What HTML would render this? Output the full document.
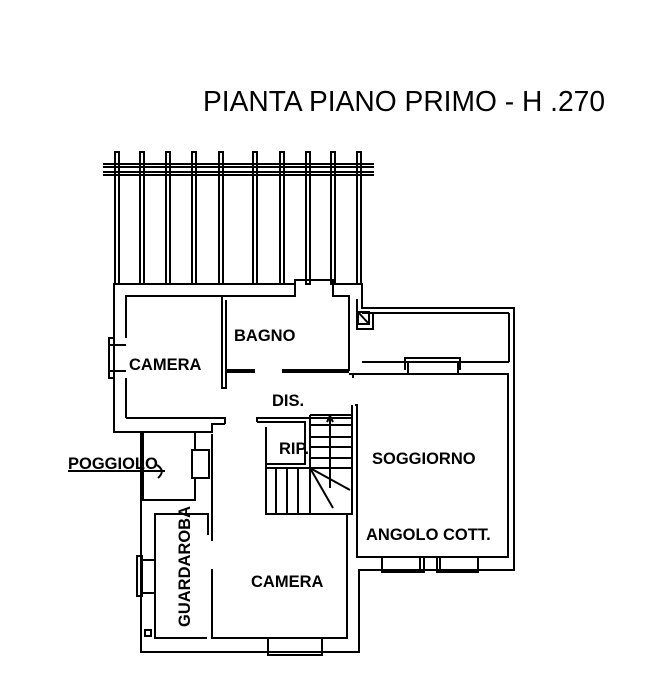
<!DOCTYPE html>
<html><head><meta charset="utf-8"><style>
html,body{margin:0;padding:0;background:#fff;}
svg{display:block;}
text{font-family:"Liberation Sans",sans-serif;fill:#000;}
.l{font-weight:bold;font-size:16.5px;}
</style></head><body>
<svg width="658" height="696" viewBox="0 0 658 696" xmlns="http://www.w3.org/2000/svg">
<text x="203" y="111" font-size="29" textLength="402" lengthAdjust="spacingAndGlyphs">PIANTA PIANO PRIMO - H .270</text>
<g fill="none" stroke="#000" stroke-width="2">
<line x1="103" y1="164" x2="374" y2="164"/><line x1="103" y1="167" x2="374" y2="167"/>
<line x1="103" y1="172" x2="374" y2="172"/><line x1="103" y1="175" x2="374" y2="175"/>
<g>
<rect x="115" y="152" width="4" height="132"/><rect x="140" y="152" width="4" height="132"/>
<rect x="166" y="152" width="4" height="132"/><rect x="192" y="152" width="4" height="132"/>
<rect x="219" y="152" width="4" height="132"/><rect x="253" y="152" width="4" height="132"/>
<rect x="280" y="152" width="4" height="132"/><rect x="306" y="152" width="4" height="132"/>
<rect x="331" y="152" width="4" height="132"/><rect x="357" y="152" width="4" height="132"/>
</g>
<polyline points="295,284 114,284 114,432 212,432 212,424 225,424"/>
<polyline points="333,284 362,284 362,308 514,308 514,570 359,570 359,652 141,652 141,432"/>
<polyline points="126,338 126,296 295,296 295,280 333,280 333,296 349,296 349,370 282,370"/>
<line x1="126" y1="378" x2="126" y2="418"/>
<polyline points="126,418 225,418 225,424"/>
<rect x="109" y="338" width="5" height="40"/>
<line x1="109" y1="345" x2="126" y2="345"/><line x1="109" y1="371" x2="126" y2="371"/>
<polyline points="222,296 222,388 226,388 226,300"/>
<line x1="226" y1="370" x2="255" y2="370"/><line x1="226" y1="372" x2="255" y2="372"/>
<line x1="282" y1="372" x2="349" y2="372"/>
<line x1="362" y1="313" x2="509" y2="313"/><line x1="509" y1="313" x2="509" y2="362"/>
<line x1="362" y1="362" x2="509" y2="362"/>
<rect x="358" y="312" width="11" height="12"/><line x1="358" y1="312" x2="369" y2="324"/>
<polyline points="357,299 357,329 373,329 373,313"/>
<polyline points="405,370 405,358 460,358 460,370"/>
<line x1="408" y1="362" x2="408" y2="374"/><line x1="458" y1="362" x2="458" y2="374"/>
<polyline points="349,374 508,374 508,557 357,557 357,405 355,405"/>
<line x1="353" y1="374" x2="353" y2="378"/>
<polyline points="382,557 382,572 424,572 424,557"/><polyline points="437,557 437,572 478,572 478,557"/>
<line x1="420" y1="557" x2="420" y2="570"/><line x1="440" y1="557" x2="440" y2="570"/>
<polyline points="257,422 305,422 305,464 266,464 266,427"/>
<polyline points="257,422 257,418 352,418"/>
<polyline points="266,427 266,514 352,514 352,405"/>
<line x1="310" y1="415" x2="352" y2="415"/>
<line x1="310" y1="415" x2="310" y2="514"/>
<line x1="310" y1="425" x2="352" y2="425"/><line x1="310" y1="437" x2="352" y2="437"/>
<line x1="310" y1="447" x2="352" y2="447"/><line x1="310" y1="458" x2="352" y2="458"/>
<line x1="266" y1="468" x2="352" y2="468"/>
<line x1="276" y1="468" x2="276" y2="514"/><line x1="287" y1="468" x2="287" y2="514"/>
<line x1="298" y1="468" x2="298" y2="514"/>
<line x1="310" y1="468" x2="333" y2="508"/><line x1="310" y1="468" x2="350" y2="490"/>
<polyline points="330,488 330,415"/><polyline points="327,422 330,416 333,422"/>
<polyline points="347,514 347,638 212,638 212,569"/>
<line x1="212" y1="541" x2="212" y2="494"/>
<polyline points="212,494 212,434"/>
<rect x="268" y="638" width="54" height="17"/>
<polyline points="143,432 143,500 195,500 195,477"/>
<rect x="192" y="450" width="17" height="28"/>
<line x1="195" y1="432" x2="195" y2="450"/>
<polyline points="155,600 155,514 208,514 208,535"/>
<polyline points="155,600 155,638 207,638"/>
<rect x="137" y="556" width="5" height="40"/><line x1="142" y1="560" x2="155" y2="560"/><line x1="142" y1="593" x2="155" y2="593"/>
<rect x="145" y="630" width="6" height="6"/>
<line x1="68" y1="471" x2="165" y2="471"/>
<path d="M157,465 Q166,471 158,478"/>
</g>
<text class="l" x="234" y="341">BAGNO</text>
<text class="l" x="129" y="370">CAMERA</text>
<text class="l" x="272" y="406">DIS.</text>
<text class="l" x="279" y="454">RIP.</text>
<text class="l" x="372" y="464">SOGGIORNO</text>
<text class="l" x="366" y="540">ANGOLO COTT.</text>
<text class="l" x="251" y="587">CAMERA</text>
<text class="l" x="68" y="469">POGGIOLO</text>
<text class="l" transform="translate(190,627) rotate(-90)">GUARDAROBA</text>
</svg>
</body></html>
